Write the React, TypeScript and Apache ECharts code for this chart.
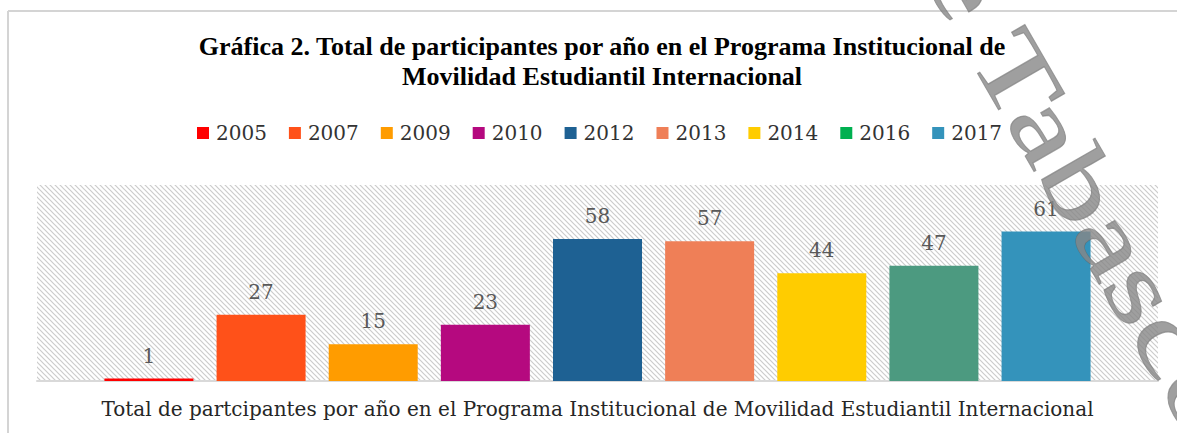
import React, { useEffect, useRef } from "react";
import * as echarts from "echarts";

const titleText =
  "Gráfica 2. Total de participantes por año en el Programa Institucional de\nMovilidad Estudiantil Internacional";
const categoryLabel =
  "Total de partcipantes por año en el Programa Institucional de Movilidad Estudiantil Internacional";
const years = ["2005", "2007", "2009", "2010", "2012", "2013", "2014", "2016", "2017"];
const values = [1, 27, 15, 23, 58, 57, 44, 47, 61];
const barColors = ["#FF0000", "#FF5119", "#FF9C00", "#B5097F", "#1E6193", "#EF7F57", "#FFCC00", "#4C9A80", "#3493BB"];
const legendColors = ["#FF0000", "#FF5119", "#FF9C00", "#B5097F", "#1E6193", "#EF7F57", "#FFCC00", "#00B050", "#3493BB"];
const watermark = "de Tabasco";

function makeHatch(): HTMLCanvasElement {
  const s = 5;
  const c = document.createElement("canvas");
  c.width = s;
  c.height = s;
  const ctx = c.getContext("2d")!;
  ctx.fillStyle = "#ffffff";
  ctx.fillRect(0, 0, s, s);
  ctx.strokeStyle = "#cccccc";
  ctx.lineWidth = 1.2;
  ctx.beginPath();
  ctx.moveTo(-1, -1);
  ctx.lineTo(s + 1, s + 1);
  ctx.moveTo(-1, s - 1);
  ctx.lineTo(1, s + 1);
  ctx.moveTo(s - 1, -1);
  ctx.lineTo(s + 1, 1);
  ctx.stroke();
  return c;
}

export default function App() {
  const ref = useRef<HTMLDivElement>(null);
  useEffect(() => {
    if (!ref.current) return;
    const chart = echarts.init(ref.current, undefined, { renderer: "svg" });
    const hatch = makeHatch();
    const gridLeft = 37;
    const gridRight = 19;
    const gridTop = 185;
    const gridBottom = 52;
    chart.setOption({
      animation: false,
      backgroundColor: "#ffffff",
      title: {
        text: titleText,
        left: 597,
        top: 26,
        textAlign: "center",
        textStyle: {
          fontFamily: "Liberation Serif",
          fontWeight: "bold",
          fontSize: 26,
          lineHeight: 30,
          color: "#000000",
        },
      },
      legend: {
        left: 192,
        top: 118,
        itemWidth: 12,
        itemHeight: 12,
        itemGap: 22,
        icon: "rect",
        data: years.map((y, i) => ({ name: y, itemStyle: { color: legendColors[i] } })),
        textStyle: {
          fontFamily: "DejaVu Serif",
          fontSize: 20,
          color: "#333333",
          padding: [0, 0, 0, 2],
        },
      },
      grid: { left: gridLeft, right: gridRight, top: gridTop, bottom: gridBottom },
      xAxis: {
        type: "category",
        data: [categoryLabel],
        axisTick: { show: false },
        axisLine: { lineStyle: { color: "#d9d9d9", width: 2 } },
        axisLabel: {
          margin: 18,
          fontFamily: "DejaVu Serif",
          fontSize: 20,
          color: "#262626",
        },
      },
      yAxis: {
        type: "value",
        min: 0,
        max: 80,
        show: false,
        splitLine: { show: false },
      },
      series: years.map((y, i) => ({
        name: y,
        type: "bar",
        barWidth: 89,
        barGap: "26%",
        data: [values[i]],
        itemStyle: { color: barColors[i] },
        label: {
          show: true,
          position: "top",
          distance: 13,
          fontFamily: "DejaVu Serif",
          fontSize: 20,
          color: "#595959",
        },
      })),
      graphic: [
        {
          type: "rect",
          z: -10,
          silent: true,
          shape: { x: gridLeft, y: gridTop, width: 1177 - gridLeft - gridRight, height: 433 - gridTop - gridBottom },
          style: { fill: { image: hatch, repeat: "repeat" } as any },
        },
        {
          type: "line",
          z: 50,
          shape: { x1: 8, y1: 11, x2: 1177, y2: 11 },
          style: { stroke: "#d4d4d4", lineWidth: 2 },
        },
        {
          type: "line",
          z: 50,
          shape: { x1: 8, y1: 11, x2: 8, y2: 433 },
          style: { stroke: "#d4d4d4", lineWidth: 2 },
        },
        {
          type: "text",
          z: 100,
          silent: true,
          x: 915,
          y: -102,
          scaleX: 1.38,
          scaleY: 1,
          rotation: -Math.PI / 3,
          style: {
            text: watermark,
            font: "100px 'Liberation Serif'",
            fill: "rgba(135,135,135,0.8)",
            stroke: "rgba(100,100,100,0.6)",
            lineWidth: 1,
            textAlign: "left",
            textVerticalAlign: "middle",
          },
        },
      ],
    });
    return () => chart.dispose();
  }, []);
  return (
    <div
      ref={ref}
      style={{ position: "fixed", left: 0, top: 0, width: 1177, height: 433 }}
    />
  );
}
